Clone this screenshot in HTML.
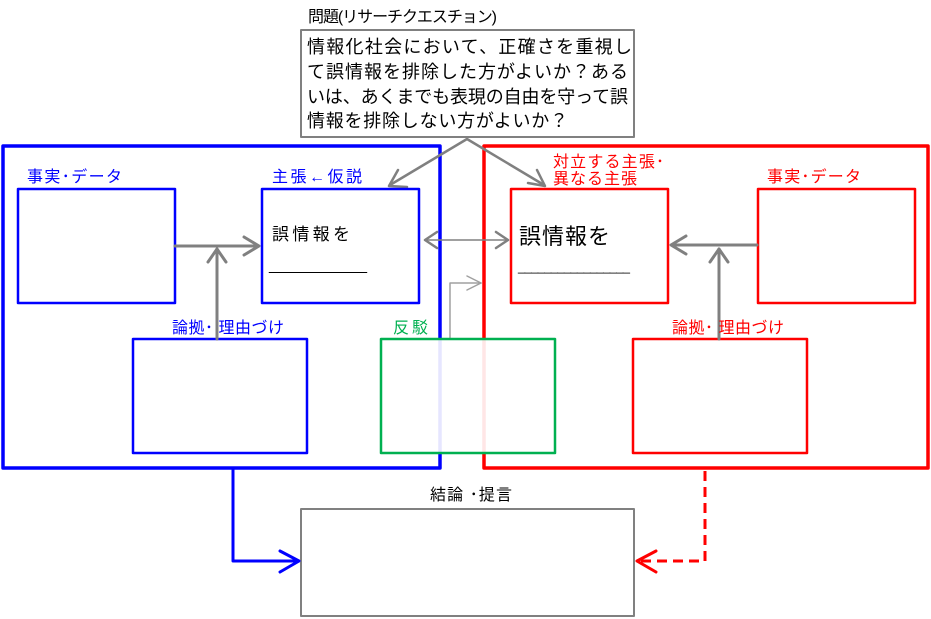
<!DOCTYPE html>
<html><head><meta charset="utf-8"><style>
html,body{margin:0;padding:0;background:#fff;}
svg{display:block;font-family:"Liberation Sans","Noto Sans CJK JP",sans-serif;}
</style></head><body>
<svg width="931" height="619" viewBox="0 0 931 619" xmlns="http://www.w3.org/2000/svg">
<g fill="none" stroke-linecap="round" stroke-linejoin="round">
<rect x="3" y="146" width="437" height="322" stroke="#0000ff" stroke-width="3.5"/>
<rect x="484" y="146" width="444" height="322" stroke="#ff0000" stroke-width="3.5"/>
<rect x="301" y="30" width="333" height="107" stroke="#808080" stroke-width="2"/>
<line x1="467" y1="139" x2="390" y2="185" stroke="#808080" stroke-width="2.5"/>
<polyline points="398,170 389,186 407,187" stroke="#808080" stroke-width="2.5"/>
<line x1="467" y1="139" x2="544" y2="185" stroke="#808080" stroke-width="2.5"/>
<polyline points="528,183 545,186 537,170" stroke="#808080" stroke-width="2.5"/>
<rect x="18" y="189" width="157" height="114" stroke="#0000ff" stroke-width="2.5" fill="#fff"/>
<rect x="262" y="189" width="157" height="114" stroke="#0000ff" stroke-width="2.5" fill="#fff"/>
<rect x="133" y="339" width="174" height="114" stroke="#0000ff" stroke-width="2.5" fill="#fff"/>
<rect x="511" y="189" width="157" height="114" stroke="#ff0000" stroke-width="2.5" fill="#fff"/>
<rect x="758" y="189" width="157" height="114" stroke="#ff0000" stroke-width="2.5" fill="#fff"/>
<rect x="633" y="339" width="174" height="114" stroke="#ff0000" stroke-width="2.5" fill="#fff"/>
<line x1="175" y1="246" x2="258" y2="246" stroke="#808080" stroke-width="3"/>
<polyline points="244,237 259,246 244,255" stroke="#808080" stroke-width="3"/>
<line x1="217" y1="339" x2="217" y2="249" stroke="#808080" stroke-width="3"/>
<polyline points="208,262 217,249 226,262" stroke="#808080" stroke-width="3"/>
<line x1="757" y1="245" x2="672" y2="245" stroke="#808080" stroke-width="3"/>
<polyline points="686,236 671,245 686,254" stroke="#808080" stroke-width="3"/>
<line x1="719" y1="339" x2="719" y2="249" stroke="#808080" stroke-width="3"/>
<polyline points="710,262 719,249 728,262" stroke="#808080" stroke-width="3"/>
<line x1="425" y1="240" x2="508" y2="240" stroke="#808080" stroke-width="1.5"/>
<polyline points="437,232 425,240 437,248" stroke="#808080" stroke-width="2.5"/>
<polyline points="496,232 508,240 496,248" stroke="#808080" stroke-width="2.5"/>
<polyline points="450,339 450,283 481,283" stroke="#a0a0a0" stroke-width="1.5"/>
<polyline points="467,276 481,283 467,290" stroke="#a0a0a0" stroke-width="1.5"/>
<rect x="381" y="339" width="174" height="114" stroke="#00b050" stroke-width="2.5" fill="#fff" fill-opacity="0.9"/>
<rect x="301" y="509" width="333" height="107" stroke="#808080" stroke-width="2"/>
<polyline points="233,469 233,561 298,561" stroke="#0000ff" stroke-width="3"/>
<polyline points="280,551 299,561 280,572" stroke="#0000ff" stroke-width="3"/>
<polyline points="705,471 705,561 640,561" stroke="#ff0000" stroke-width="3" stroke-dasharray="10,6" stroke-linecap="butt"/>
<polyline points="656,551 637,561 656,572" stroke="#ff0000" stroke-width="3"/>
</g>
<g font-size="16" lengthAdjust="spacingAndGlyphs">
<text x="308" y="22" fill="#000" textLength="189">問題(リサーチクエスチョン)</text>
<text x="307" y="53" font-size="18" fill="#000" textLength="325">情報化社会において、正確さを重視し</text>
<text x="307" y="78" font-size="18" fill="#000" textLength="321">て誤情報を排除した方がよいか？ある</text>
<text x="307" y="103" font-size="18" fill="#000" textLength="321">いは、あくまでも表現の自由を守って誤</text>
<text x="307" y="127" font-size="18" fill="#000" textLength="261">情報を排除しない方がよいか？</text>
<text x="27" y="182" fill="#0000ff" textLength="95">事実･データ</text>
<text x="272" y="182" fill="#0000ff" textLength="90">主張←仮説</text>
<text x="272" y="240" font-size="17" fill="#000" textLength="78">誤情報を</text>
<text x="269" y="270" fill="#000" textLength="98">____________</text>
<text x="172" y="333" fill="#0000ff" textLength="112">論拠･ 理由づけ</text>
<text x="393" y="333" fill="#00b050" textLength="35">反駁</text>
<text x="553" y="167" fill="#ff0000" textLength="111">対立する主張･</text>
<text x="553" y="184" fill="#ff0000" textLength="84">異なる主張</text>
<text x="519" y="244" font-size="22" fill="#000" textLength="91">誤情報を</text>
<text x="518" y="271" font-size="13" fill="#000" textLength="112">_________________</text>
<text x="767" y="182" fill="#ff0000" textLength="94">事実･データ</text>
<text x="672" y="333" fill="#ff0000" textLength="112">論拠･ 理由づけ</text>
<text x="430" y="500" fill="#000" textLength="82">結論 ･提言</text>
</g>
</svg>
</body></html>
